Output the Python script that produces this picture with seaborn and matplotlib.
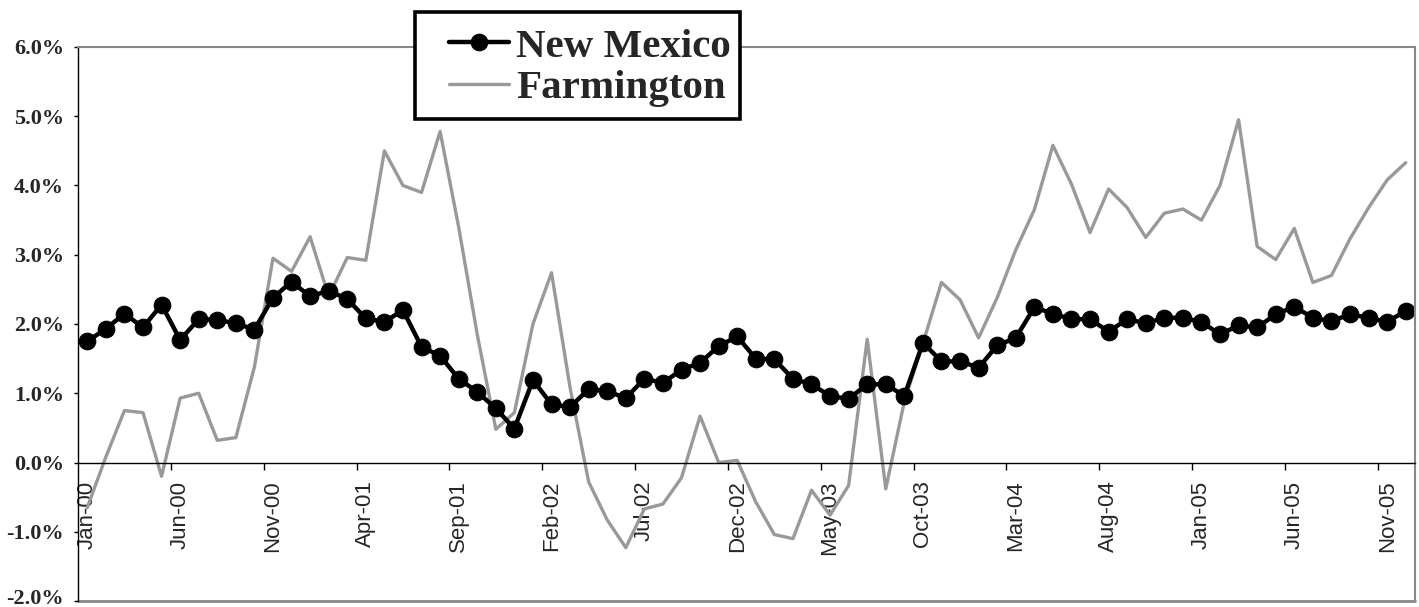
import numpy as np
import pandas as pd
import matplotlib
matplotlib.use("Agg")
import matplotlib.pyplot as plt
import matplotlib.patches as mpatches
import matplotlib.transforms as mtransforms
import seaborn as sns

# ---- data -------------------------------------------------------------
months = pd.date_range("2000-01-01", periods=72, freq="MS").strftime("%b-%y").tolist()

new_mexico = [
    1.75, 1.93, 2.15, 1.95, 2.28, 1.77, 2.07, 2.06, 2.01, 1.92,
    2.38, 2.61, 2.40, 2.48, 2.36, 2.08, 2.03, 2.20, 1.67, 1.54,
    1.21, 1.02, 0.78, 0.49, 1.19, 0.84, 0.80, 1.06, 1.03, 0.93,
    1.21, 1.15, 1.34, 1.44, 1.68, 1.82, 1.50, 1.49, 1.21, 1.13,
    0.96, 0.92, 1.13, 1.13, 0.96, 1.73, 1.46, 1.46, 1.37, 1.69,
    1.80, 2.24, 2.15, 2.07, 2.07, 1.89, 2.07, 2.01, 2.09, 2.09,
    2.03, 1.85, 1.98, 1.95, 2.14, 2.25, 2.09, 2.04, 2.14, 2.09,
    2.03, 2.19,
]

farmington = [
    -0.65, 0.08, 0.75, 0.72, -0.20, 0.93, 1.00, 0.32, 0.36, 1.38,
    2.95, 2.76, 3.26, 2.40, 2.96, 2.92, 4.50, 4.00, 3.90, 4.78,
    3.40, 1.85, 0.48, 0.72, 2.00, 2.74, 1.08, -0.28, -0.83, -1.23,
    -0.67, -0.60, -0.22, 0.67, 0.00, 0.03, -0.57, -1.04, -1.10, -0.40,
    -0.76, -0.33, 1.78, -0.38, 0.88, 1.72, 2.60, 2.35, 1.80, 2.38,
    3.07, 3.65, 4.58, 4.02, 3.32, 3.95, 3.68, 3.25, 3.60, 3.66,
    3.50, 4.00, 4.95, 3.12, 2.93, 3.38, 2.60, 2.70, 3.23, 3.68,
    4.08, 4.33,
]

y_ticks = [-2, -1, 0, 1, 2, 3, 4, 5, 6]
label_every = 5

df = pd.DataFrame({
    "idx": np.arange(len(months)),
    "month": months,
    "New Mexico": new_mexico,
    "Farmington": farmington,
})

# ---- style ------------------------------------------------------------
sns.set_style("white")
plt.rcParams["font.family"] = ["Liberation Serif", "DejaVu Serif"]

W, H = 1419, 607
fig = plt.figure(figsize=(W / 100, H / 100), dpi=100)
ax = fig.add_axes([78 / W, 6 / H, (1415 - 78) / W, (601 - 47) / H])

sns.lineplot(data=df, x="idx", y="Farmington", color="#999999", linewidth=2.4,
             ax=ax, label="Farmington")
sns.lineplot(data=df, x="idx", y="New Mexico", color="black", linewidth=3.2,
             marker="o", markersize=12, markeredgecolor="black",
             markerfacecolor="black", ax=ax, label="New Mexico")

n = len(months)
ax.set_xlim(-0.5, n - 0.5)
ax.set_ylim(-2, 6)
ax.set_xlabel("")
ax.set_ylabel("")

# spines
ax.spines["bottom"].set_position(("data", 0))
ax.spines["bottom"].set_color("black")
ax.spines["bottom"].set_linewidth(1.0)
ax.spines["left"].set_color("black")
ax.spines["left"].set_linewidth(1.0)
for s in ("top", "right"):
    ax.spines[s].set_color("#888888")
    ax.spines[s].set_linewidth(1.5)
ax.axhline(-2, color="#888888", linewidth=2.0, clip_on=False, zorder=0)

# x ticks: marks at category boundaries, labels at category centres
bounds = [k - 0.5 for k in range(label_every, n, label_every)]
ax.set_xticks(bounds)
ax.set_xticklabels([""] * len(bounds))
centres = list(range(0, n, label_every))
ax.set_xticks(centres, minor=True)
ax.set_xticklabels([months[i] for i in centres], minor=True, rotation=90,
                   family="Liberation Sans", fontsize=16, va="top", ha="center")
ax.tick_params(axis="x", which="major", direction="out", length=5, width=1,
               color="black", bottom=True)
ax.tick_params(axis="x", which="minor", length=0, pad=13, bottom=True)

ax.set_yticks(y_ticks)
ax.set_yticklabels([f"{v:.1f}%" for v in y_ticks], fontsize=16,
                   fontweight="bold", family="Liberation Serif")
ax.tick_params(axis="y", direction="out", length=3, width=1, color="black",
               left=True, pad=7)
ax.grid(False)
# lift the lowest label slightly so it stays inside the picture
low = ax.get_yticklabels()[0]
low.set_transform(low.get_transform() +
                  mtransforms.ScaledTranslation(0, 4 / 100, fig.dpi_scale_trans))

# legend box (Excel style, asymmetric padding)
box = mpatches.Rectangle((415 / W, 1 - 119 / H), (740 - 415) / W, (119 - 12) / H,
                         transform=fig.transFigure, facecolor="white",
                         edgecolor="black", linewidth=2.6, clip_on=False,
                         zorder=9)
ax.add_patch(box)

handles, labels = ax.get_legend_handles_labels()
order = [labels.index("New Mexico"), labels.index("Farmington")]
leg = ax.legend([handles[i] for i in order], [labels[i] for i in order],
                loc="upper left", bbox_to_anchor=(449 / W, 1 - 28 / H),
                bbox_transform=fig.transFigure,
                prop={"family": "Liberation Serif", "weight": "bold", "size": 29.5},
                frameon=False, borderpad=0, labelspacing=0.09,
                handlelength=1.46, handletextpad=0.17, borderaxespad=0)
leg.set_zorder(10)

fig.savefig("out.png", dpi=100, facecolor="white")
